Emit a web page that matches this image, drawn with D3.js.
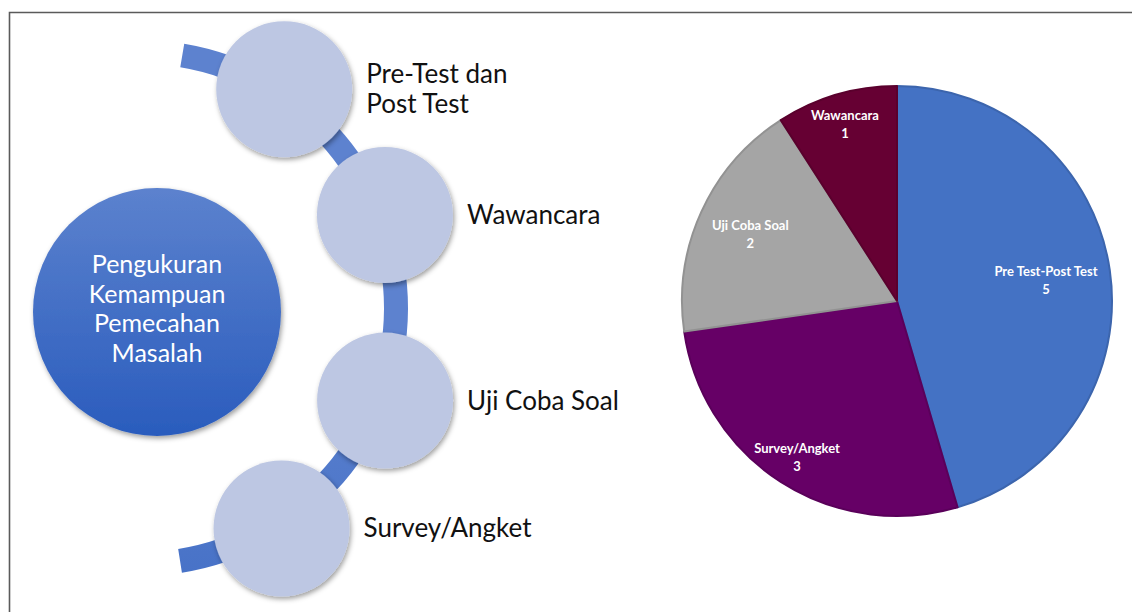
<!DOCTYPE html>
<html>
<head>
<meta charset="utf-8">
<script src="https://cdn.jsdelivr.net/npm/d3@7"></script>
<style>
  html, body { margin: 0; padding: 0; background: #ffffff; }
  svg { display: block; }
</style>
</head>
<body>
<svg id="chart" width="1132" height="612"></svg>
<script>
// ---------------- data ----------------
const centerTitle = ["Pengukuran", "Kemampuan", "Pemecahan", "Masalah"];
const steps = ["Pre-Test dan|Post Test", "Wawancara", "Uji Coba Soal", "Survey/Angket"];
const pieCategories = ["Pre Test-Post Test", "Survey/Angket", "Uji Coba Soal", "Wawancara"];
const pieValues = [5, 3, 2, 1];
const pieColors = ["#4472c4", "#660066", "#a5a5a5", "#660033"];

// ---------------- setup ----------------
const svg = d3.select("#chart");
const W = 1132, H = 612;
const font = "Lato, 'Noto Sans', sans-serif";
const defs = svg.append("defs");

const sh = defs.append("filter").attr("id", "shadow")
  .attr("x", "-20%").attr("y", "-20%").attr("width", "140%").attr("height", "140%");
sh.append("feDropShadow").attr("dx", 1.5).attr("dy", 2.5).attr("stdDeviation", 2.5)
  .attr("flood-color", "#000").attr("flood-opacity", 0.38);

const g1 = defs.append("linearGradient").attr("id", "bigGrad")
  .attr("x1", 0).attr("y1", 0).attr("x2", 0).attr("y2", 1);
g1.append("stop").attr("offset", "0%").attr("stop-color", "#5c82ce");
g1.append("stop").attr("offset", "100%").attr("stop-color", "#2a5cbd");

const g2 = defs.append("linearGradient").attr("id", "bandGrad")
  .attr("gradientUnits", "userSpaceOnUse")
  .attr("x1", 0).attr("y1", 40).attr("x2", 0).attr("y2", 580);
g2.append("stop").attr("offset", "0%").attr("stop-color", "#5d82cf");
g2.append("stop").attr("offset", "100%").attr("stop-color", "#2b5dbd");

// frame
svg.append("path")
  .attr("d", `M9.5,${H} L9.5,12.5 L${W},12.5`)
  .attr("fill", "none").attr("stroke", "#5a5a5a").attr("stroke-width", 1.6);

// ---------------- left diagram ----------------
const arcC = { x: 140, y: 308 };
const toRad = d => d * Math.PI / 180;

// connecting band
svg.append("path")
  .attr("transform", `translate(${arcC.x},${arcC.y})`)
  .attr("d", d3.arc()({ innerRadius: 244, outerRadius: 268, startAngle: toRad(9.5), endAngle: toRad(171) }))
  .attr("fill", "url(#bandGrad)");

// big circle
const big = { x: 157, y: 312, r: 124 };
svg.append("circle")
  .attr("cx", big.x).attr("cy", big.y).attr("r", big.r)
  .attr("fill", "url(#bigGrad)").attr("filter", "url(#shadow)");

svg.append("text")
  .attr("text-anchor", "middle")
  .attr("font-family", font).attr("font-size", 25).attr("fill", "#ffffff")
  .selectAll("tspan").data(centerTitle).join("tspan")
  .attr("x", big.x)
  .attr("y", (d, i) => 273 + i * 29.7)
  .text(d => d);

// step circles placed along the connecting arc (layout angles)
const stepAngleLayout = [33.4, 69.2, 110.7, 147.3];
const stepR = 262, smallR = 68;
const pos = (s, i) => {
  const a = toRad(stepAngleLayout[i] - 90);
  return { x: arcC.x + stepR * Math.cos(a), y: arcC.y + stepR * Math.sin(a) };
};

const stepG = svg.append("g").selectAll("g").data(steps).join("g")
  .attr("transform", (d, i) => { const p = pos(d, i); return `translate(${p.x},${p.y})`; });

stepG.append("circle")
  .attr("r", smallR)
  .attr("fill", "#bdc7e3")
  .attr("filter", "url(#shadow)");

stepG.each(function (d) {
  const lines = d.split("|");
  const t = d3.select(this).append("text")
    .attr("font-family", font).attr("font-size", 26).attr("fill", "#111111");
  const lh = 30;
  const y0 = 9 - (lines.length - 1) * lh / 2;
  lines.forEach((l, i) => {
    t.append("tspan").attr("x", smallR + 14).attr("y", y0 + i * lh).text(l);
  });
});

// ---------------- pie ----------------
const pc = { x: 897, y: 301 }, pr = 215;
const pie = d3.pie().sort(null).value(d => d)(pieValues);
const arcGen = d3.arc().innerRadius(0).outerRadius(pr);
const pieG = svg.append("g").attr("transform", `translate(${pc.x},${pc.y})`);

pieG.selectAll("path").data(pie).join("path")
  .attr("d", arcGen)
  .attr("fill", (d, i) => pieColors[i])
  .attr("stroke", (d, i) => d3.color(pieColors[i]).darker(0.35))
  .attr("stroke-width", 2)
  .attr("stroke-linejoin", "round");

// label distance fraction (layout, per slice)
const labelFrac = [0.70, 0.86, 0.75, 0.86];
const labels = pieG.selectAll("text.lbl").data(pie).join("text")
  .attr("class", "lbl")
  .attr("text-anchor", "middle")
  .attr("font-family", font).attr("font-weight", "bold")
  .attr("font-size", 13).attr("fill", "#ffffff")
  .attr("transform", (d, i) => {
    const c = d3.arc().innerRadius(pr * labelFrac[i]).outerRadius(pr * labelFrac[i]).centroid(d);
    return `translate(${c[0]},${c[1]})`;
  });
labels.append("tspan").attr("x", 0).attr("y", -4).text((d, i) => pieCategories[i]);
labels.append("tspan").attr("x", 0).attr("y", 14).text(d => d.data);
</script>
</body>
</html>
